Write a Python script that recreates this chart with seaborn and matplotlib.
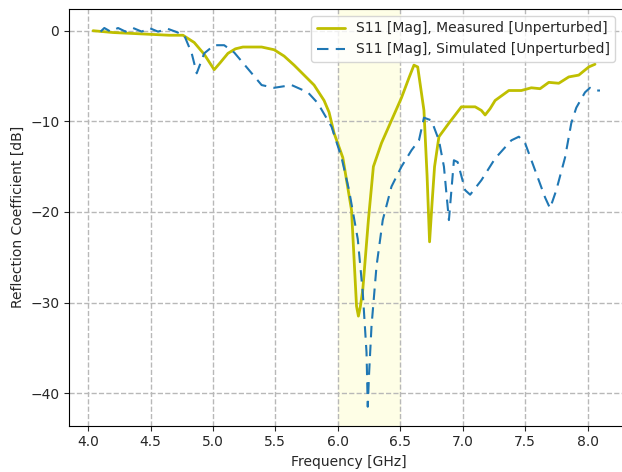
import numpy as np
import pandas as pd
import matplotlib
matplotlib.use("Agg")
import matplotlib.pyplot as plt
import seaborn as sns

# Measured S11
meas_f = [4.04, 4.2, 4.35, 4.5, 4.65, 4.76, 4.85, 4.93, 5.01, 5.06, 5.12, 5.18, 5.24,
          5.32, 5.39, 5.49, 5.57, 5.65, 5.73, 5.81, 5.89, 5.93, 5.97, 6.04, 6.11, 6.15,
          6.165, 6.18, 6.2, 6.245, 6.285, 6.35, 6.43, 6.51, 6.57, 6.61, 6.64, 6.69,
          6.715, 6.735, 6.755, 6.775, 6.81, 6.89, 6.99, 7.1, 7.15, 7.18, 7.22, 7.26,
          7.37, 7.47, 7.55, 7.62, 7.69, 7.77, 7.85, 7.93, 8.01, 8.06]
meas_db = [0.0, -0.2, -0.3, -0.4, -0.5, -0.5, -1.3, -2.6, -4.3, -3.5, -2.5, -2.0, -1.8,
           -1.8, -1.8, -2.1, -2.8, -3.8, -4.9, -6.0, -7.7, -9.0, -11.3, -14.0, -19.8,
           -30.4, -31.5, -30.5, -28.6, -20.9, -15.0, -12.4, -9.9, -7.4, -5.2, -3.8,
           -4.0, -8.8, -16.0, -23.3, -19.0, -15.0, -11.7, -10.2, -8.4, -8.4, -8.8, -9.3,
           -8.6, -7.7, -6.6, -6.6, -6.3, -6.4, -5.7, -5.8, -5.1, -4.9, -4.0, -3.7]

# Simulated S11
sim_f = [4.1, 4.13, 4.18, 4.24, 4.3, 4.36, 4.43, 4.49, 4.56, 4.64, 4.7, 4.77, 4.83,
         4.87, 4.93, 5.01, 5.09, 5.17, 5.28, 5.39, 5.49, 5.63, 5.76, 5.84, 5.95, 6.03,
         6.09, 6.16, 6.2, 6.23, 6.24, 6.25, 6.27, 6.31, 6.36, 6.43, 6.51, 6.59, 6.65,
         6.69, 6.75, 6.81, 6.85, 6.89, 6.93, 6.96, 7.02, 7.06, 7.15, 7.26, 7.39, 7.45,
         7.5, 7.58, 7.66, 7.7, 7.75, 7.82, 7.87, 7.91, 7.98, 8.02, 8.06, 8.1]
sim_db = [-0.1, 0.3, -0.1, 0.3, -0.1, 0.3, -0.1, 0.3, -0.1, 0.2, -0.1, -0.5, -2.5,
          -4.7, -2.5, -1.6, -1.6, -2.4, -4.2, -6.0, -6.3, -6.0, -6.8, -8.0, -10.6,
          -14.0, -17.6, -23.0, -28.9, -35.5, -41.5, -38.0, -32.6, -26.0, -20.9, -17.2,
          -15.0, -13.2, -12.1, -9.6, -9.9, -12.1, -15.0, -20.9, -14.3, -14.5, -17.6,
          -18.1, -16.5, -14.1, -12.1, -11.7, -12.4, -15.4, -18.4, -19.6, -17.6, -14.0,
          -10.2, -8.5, -6.8, -6.3, -6.6, -6.6]

meas = pd.DataFrame({"f": meas_f, "db": meas_db})
sim = pd.DataFrame({"f": sim_f, "db": sim_db})

sns.set_style("ticks")
plt.rcParams.update({"font.size": 10, "font.family": "DejaVu Sans"})

fig = plt.figure(figsize=(6.22, 4.72), dpi=100)
ax = fig.add_axes([0.111, 0.098, 0.9, 0.883])

ax.axvspan(6.0, 6.5, color="#fefee6", zorder=0)
sns.lineplot(data=meas, x="f", y="db", ax=ax, color="#bfbf00", linewidth=2,
             sort=False, label="S11 [Mag], Measured [Unperturbed]")
sns.lineplot(data=sim, x="f", y="db", ax=ax, color="#1f77b4", linewidth=1.5,
             linestyle=(0, (5.5, 3.5)), sort=False,
             label="S11 [Mag], Simulated [Unperturbed]")

ax.grid(True, linestyle="--", color="#b8b8b8", linewidth=1)
ax.set_axisbelow(True)
ax.set_xlabel("Frequency [GHz]")
ax.set_ylabel("Reflection Coefficient [dB]")
ax.set_xlim(3.8475, 8.331)
ax.set_ylim(-43.6, 2.4)
ax.set_xticks(np.arange(4.0, 8.01, 0.5))
ax.set_yticks([0, -10, -20, -30, -40])
ax.legend(loc="upper right", fancybox=True, bbox_to_anchor=(0.988, 1.0))
for s in ax.spines.values():
    s.set_color("black")
    s.set_linewidth(0.8)

fig.savefig("out.png", dpi=100)
